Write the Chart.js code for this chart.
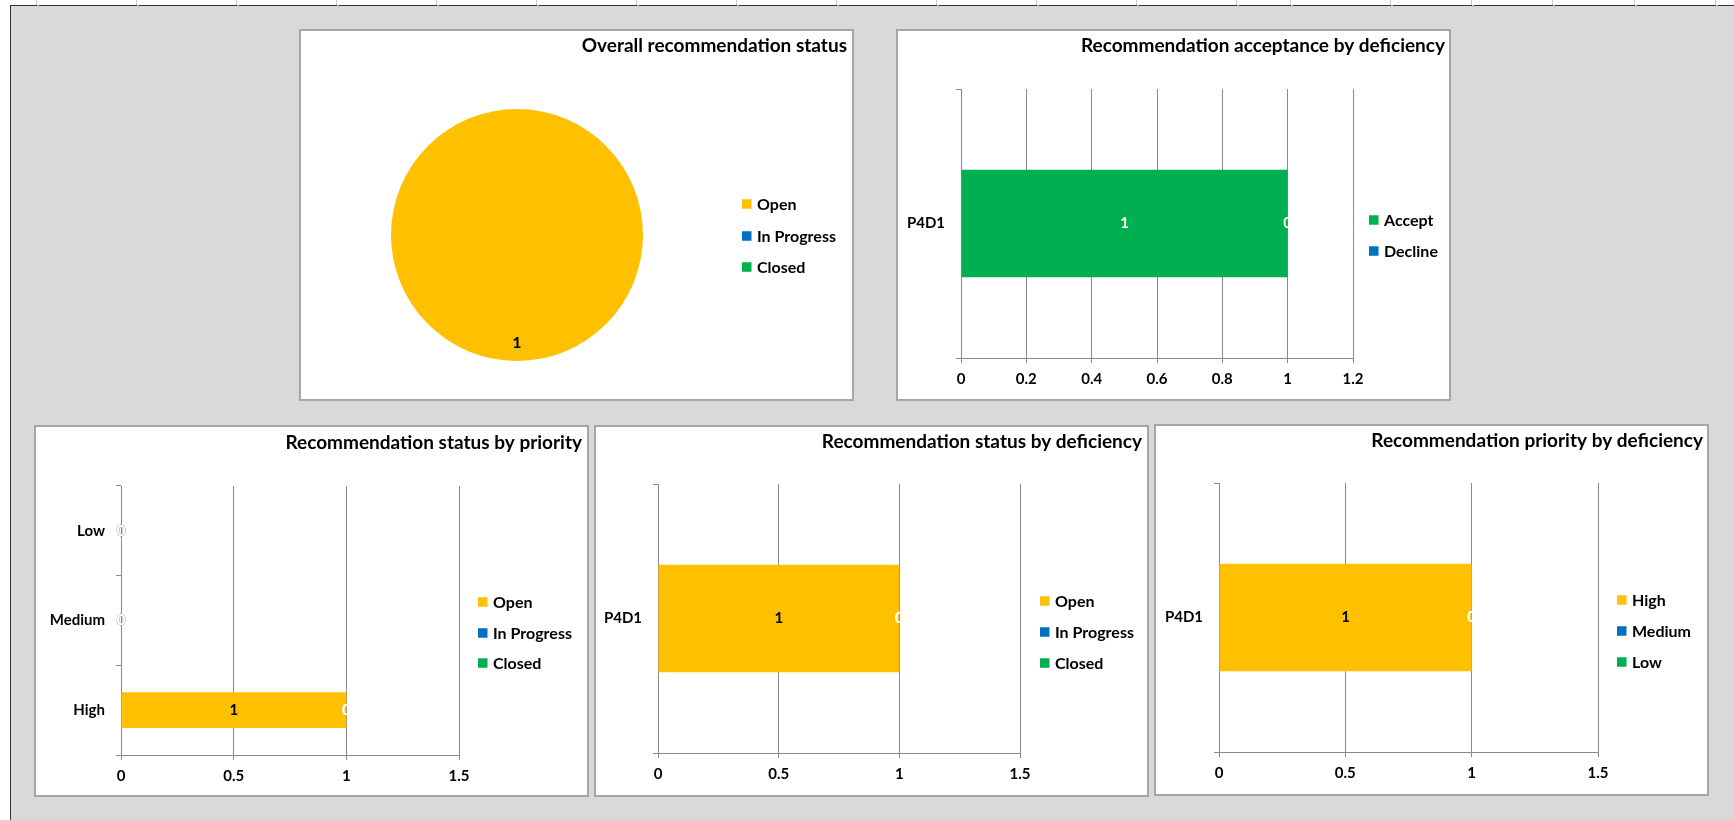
<!DOCTYPE html>
<html><head><meta charset="utf-8">
<script src="https://cdn.jsdelivr.net/npm/chart.js@4.4.1/dist/chart.umd.min.js"></script>
<style>
html,body{margin:0;padding:0;width:1734px;height:820px;overflow:hidden;background:#fff;font-family:Lato,sans-serif}
#sheet{position:absolute;left:10px;top:5px;width:1724px;height:815px;background:#d9d9d9;border-left:1px solid #333;border-top:1px solid #333;box-sizing:border-box}
.gap{position:absolute;top:-1px;width:2px;height:2px;background:#bdbdbd}
.mark{position:absolute;top:0;width:1px;height:5px;background:#c8c8c8}
.panel{position:absolute;background:#fff;border:2px solid #a6a6a6;box-sizing:border-box;width:555px;height:372px}
.panel canvas{position:absolute;left:0;top:0}
</style></head>
<body>
<div id="sheet"></div>
<div class="panel" style="left:299px;top:29px"><canvas id="c1" width="551" height="368"></canvas></div>
<div class="panel" style="left:896px;top:29px"><canvas id="c2" width="551" height="368"></canvas></div>
<div class="panel" style="left:34px;top:425px"><canvas id="c3" width="551" height="368"></canvas></div>
<div class="panel" style="left:594px;top:425px"><canvas id="c4" width="551" height="368"></canvas></div>
<div class="panel" style="left:1154px;top:424px"><canvas id="c5" width="551" height="368"></canvas></div>
<script>
// ---------- DATA ----------
const statusLabels = ['Open', 'In Progress', 'Closed'];
const overallStatusValues = [1, 0, 0];

const deficiencies = ['P4D1'];
const acceptanceLabels = ['Accept', 'Decline'];
const acceptValues = [1];
const declineValues = [0];
const acceptanceTicks = { max: 1.2, step: 0.2 };

const priorities = ['High', 'Medium', 'Low'];
const openByPriority = [1, 0, 0];
const inProgressByPriority = [0, 0, 0];
const closedByPriority = [0, 0, 0];

const openByDeficiency = [1];
const inProgressByDeficiency = [0];
const closedByDeficiency = [0];

const priorityLabels = ['High', 'Medium', 'Low'];
const highByDeficiency = [1];
const mediumByDeficiency = [0];
const lowByDeficiency = [0];

const countTicks = { max: 1.5, step: 0.5 };

// ---------- STYLE ----------
const YELLOW = '#FFC000', BLUE = '#0070C0', GREEN = '#00B050';
const FONT = 'Lato';
const GRID = '#8a8a8a';
const TITLE_SIZE = 19, LEGEND_SIZE = 16, TICK_SIZE = 15, LABEL_SIZE = 15;

// column marks on the sheet's top line
const colMarks = [36,136,236,336,436,536,636,736,836,936,1036,1136,1236,1290,1390,1471,1552,1634,1715];
colMarks.forEach(x => {
  const g = document.createElement('div'); g.className = 'gap'; g.style.left = (x - 10) + 'px';
  document.getElementById('sheet').appendChild(g);
  const m = document.createElement('div'); m.className = 'mark'; m.style.left = x + 'px';
  document.body.appendChild(m);
});

Chart.defaults.font.family = FONT;
Chart.defaults.font.weight = 'bold';
Chart.defaults.color = '#000';
Chart.defaults.animation = false;

const decor = {
  id: 'decor',
  afterDraw(chart, args, o) {
    const ctx = chart.ctx;
    ctx.save();
    ctx.fillStyle = '#000';
    ctx.font = `bold ${TITLE_SIZE}px ${FONT}`;
    ctx.textAlign = 'right';
    ctx.textBaseline = 'middle';
    ctx.fillText(o.title, o.titleX, o.titleY);
    let items;
    if (chart.config.type === 'pie') {
      const ds = chart.data.datasets[0];
      items = chart.data.labels.map((l, i) => ({ text: l, color: ds.backgroundColor[i] }));
    } else {
      items = chart.data.datasets.map(d => ({ text: d.label, color: d.backgroundColor }));
    }
    ctx.font = `bold ${LEGEND_SIZE}px ${FONT}`;
    ctx.textAlign = 'left';
    items.forEach((it, i) => {
      const y = o.legendY[i];
      ctx.fillStyle = it.color;
      ctx.fillRect(o.legendX, y - 4.75, 9.5, 9.5);
      ctx.fillStyle = '#000';
      ctx.fillText(it.text, o.legendX + 15, y + 0.5);
    });
    ctx.restore();
  },
  afterDatasetsDraw(chart, args, o) {
    const ctx = chart.ctx;
    ctx.save();
    ctx.font = `bold ${o.labelSize || LABEL_SIZE}px ${FONT}`;
    ctx.textAlign = 'center';
    ctx.textBaseline = 'middle';
    chart.data.datasets.forEach((ds, di) => {
      const meta = chart.getDatasetMeta(di);
      meta.data.forEach((el, i) => {
        const v = ds.data[i];
        if (chart.config.type === 'pie') {
          if (!v) return;
          const a = (el.startAngle + el.endAngle) / 2;
          const r = el.outerRadius * 0.857;
          ctx.fillStyle = '#000';
          ctx.fillText(String(v), el.x + Math.cos(a) * r, el.y + Math.sin(a) * r);
        } else {
          const x = (el.x + el.base) / 2;
          if (v === 0 && Math.abs(el.base - chart.scales.x.getPixelForValue(0)) < 0.5) {
            ctx.strokeStyle = 'rgba(150,150,150,0.55)';
            ctx.lineWidth = 0.8;
            ctx.strokeText('0', x, el.y);
            ctx.fillStyle = '#fff';
            ctx.fillText('0', x, el.y);
          } else {
            ctx.fillStyle = v === 0 ? '#fff' : o.labelColor;
            ctx.fillText(String(v), x, el.y);
          }
        }
      });
    });
    ctx.restore();
  }
};

function barChart(id, cats, datasets, ticks, area, decorOpts, reverse) {
  const W = 551, H = 368;
  return new Chart(document.getElementById(id), {
    type: 'bar',
    data: { labels: cats, datasets: datasets.map(d => Object.assign({ categoryPercentage: 1, barPercentage: 0.4, borderWidth: 0 }, d)) },
    options: {
      responsive: false,
      indexAxis: 'y',
      layout: { padding: { left: 0, top: area.top, right: W - area.right, bottom: 0 } },
      plugins: { legend: { display: false }, tooltip: { enabled: false }, title: { display: false }, decor: decorOpts },
      scales: {
        x: {
          stacked: true, min: 0, max: ticks.max,
          ticks: { stepSize: ticks.step, padding: 7, font: { size: TICK_SIZE, weight: 'bold' }, color: '#000',
                   callback: v => String(Math.round(v * 10) / 10) },
          grid: { color: GRID, tickLength: 5, drawTicks: true, lineWidth: 1 },
          border: { display: true, color: GRID, width: 1 },
          afterFit: s => { s.height = H - area.bottom; s.paddingLeft = 0; s.paddingRight = 0; }
        },
        y: {
          stacked: true, reverse: !!reverse,
          ticks: { padding: 11, font: { size: TICK_SIZE, weight: 'bold' }, color: '#000' },
          grid: { drawOnChartArea: false, drawTicks: true, tickLength: 5, color: GRID, offset: true },
          border: { display: true, color: GRID, width: 1 },
          afterFit: s => { s.width = area.left; s.paddingTop = 0; s.paddingBottom = 0; }
        }
      }
    },
    plugins: [decor]
  });
}

// Pie
new Chart(document.getElementById('c1'), {
  type: 'pie',
  data: { labels: statusLabels, datasets: [{ data: overallStatusValues, backgroundColor: [YELLOW, BLUE, GREEN], borderWidth: 0, hoverOffset: 0 }] },
  options: {
    responsive: false,
    layout: { padding: { left: 90, top: 78, right: 551 - 342, bottom: 368 - 330 } },
    plugins: { legend: { display: false }, tooltip: { enabled: false },
      decor: { title: 'Overall recommendation status', titleX: 546, titleY: 15,
               legendX: 441, legendY: [173, 205, 236], labelSize: 16 } }
  },
  plugins: [decor]
});

barChart('c2', deficiencies, [
  { label: acceptanceLabels[0], data: acceptValues, backgroundColor: GREEN },
  { label: acceptanceLabels[1], data: declineValues, backgroundColor: BLUE }
], acceptanceTicks, { left: 63, right: 455, top: 58, bottom: 327 },
{ title: 'Recommendation acceptance by deficiency', titleX: 547, titleY: 15,
  legendX: 471, legendY: [189, 220], labelColor: '#fff' });

barChart('c3', priorities, [
  { label: statusLabels[0], data: openByPriority, backgroundColor: YELLOW },
  { label: statusLabels[1], data: inProgressByPriority, backgroundColor: BLUE },
  { label: statusLabels[2], data: closedByPriority, backgroundColor: GREEN }
], countTicks, { left: 85, right: 423, top: 59, bottom: 328 },
{ title: 'Recommendation status by priority', titleX: 546, titleY: 16,
  legendX: 442, legendY: [175, 206, 236], labelColor: '#000' }, true);

barChart('c4', deficiencies, [
  { label: statusLabels[0], data: openByDeficiency, backgroundColor: YELLOW },
  { label: statusLabels[1], data: inProgressByDeficiency, backgroundColor: BLUE },
  { label: statusLabels[2], data: closedByDeficiency, backgroundColor: GREEN }
], countTicks, { left: 62, right: 424, top: 57, bottom: 326 },
{ title: 'Recommendation status by deficiency', titleX: 546, titleY: 15,
  legendX: 444, legendY: [174, 205, 236], labelColor: '#000' });

barChart('c5', deficiencies, [
  { label: priorityLabels[0], data: highByDeficiency, backgroundColor: YELLOW },
  { label: priorityLabels[1], data: mediumByDeficiency, backgroundColor: BLUE },
  { label: priorityLabels[2], data: lowByDeficiency, backgroundColor: GREEN }
], countTicks, { left: 63, right: 442, top: 57, bottom: 326 },
{ title: 'Recommendation priority by deficiency', titleX: 547, titleY: 15,
  legendX: 461, legendY: [174, 205, 236], labelColor: '#000' });
</script>
</body></html>
